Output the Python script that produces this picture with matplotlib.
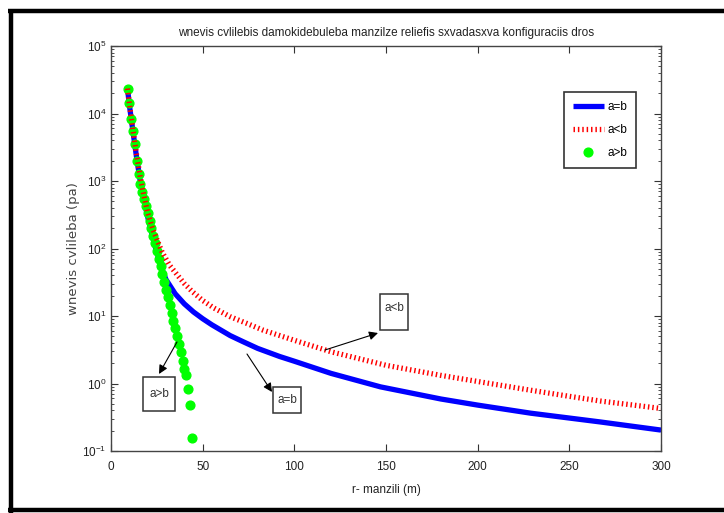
import numpy as np
import matplotlib
matplotlib.use("Agg")
import matplotlib.pyplot as plt
from matplotlib.lines import Line2D
from matplotlib.patches import Rectangle, FancyArrowPatch

plt.rcParams['font.family'] = ['Liberation Sans Narrow', 'Liberation Sans', 'DejaVu Sans']
plt.rcParams['mathtext.fontset'] = 'custom'
plt.rcParams['mathtext.rm'] = 'Liberation Sans Narrow'

# ---- data ----
r_eq = [9, 10, 12, 14, 16, 18, 20, 22, 24, 26, 28, 30, 35, 40, 45, 50, 55, 60, 65,
        72, 80, 92, 100, 120, 147, 180, 200, 229, 267, 300]
logp_eq = [4.37, 4.13, 3.73, 3.34, 2.99, 2.72, 2.47, 2.25, 2.04, 1.85, 1.68, 1.54,
           1.33, 1.18, 1.06, 0.96, 0.87, 0.79, 0.71, 0.62, 0.52, 0.40, 0.33, 0.15,
           -0.05, -0.23, -0.32, -0.44, -0.57, -0.69]

r_lt = [9, 10, 12, 14, 16, 18, 20, 23, 26, 28, 32, 37, 40, 44, 50, 56, 65, 75, 83,
        100, 120, 150, 180, 200, 229, 250, 267, 300]
logp_lt = [4.37, 4.15, 3.75, 3.38, 3.05, 2.78, 2.53, 2.27, 2.07, 1.94, 1.75, 1.58,
           1.48, 1.37, 1.23, 1.12, 0.99, 0.88, 0.79, 0.64, 0.47, 0.27, 0.12, 0.03,
           -0.10, -0.19, -0.26, -0.37]

r_gt = list(range(9, 45))
logp_gt = [4.37, 4.15, 3.92, 3.74, 3.55, 3.30, 3.10, 2.95, 2.84, 2.74, 2.63, 2.52,
           2.41, 2.30, 2.19, 2.08, 1.96, 1.85, 1.74, 1.62, 1.51, 1.39, 1.28, 1.16,
           1.05, 0.93, 0.82, 0.71, 0.59, 0.47, 0.33, 0.22, 0.12, -0.08, -0.32, -0.81]

p_eq = 10 ** np.array(logp_eq)
p_lt = 10 ** np.array(logp_lt)
p_gt = 10 ** np.array(logp_gt)

labels = ['a=b', 'a<b', 'a>b']
title = 'wnevis cvlilebis damokidebuleba manzilze reliefis sxvadasxva konfiguraciis dros'
xlabel = 'r- manzili (m)'
ylabel = 'wnevis cvlileba (pa)'
xticks = [0, 50, 100, 150, 200, 250, 300]

W, H = 724, 513
AX_L, AX_R, AX_T, AX_B = 111, 661, 46, 451

fig = plt.figure(figsize=(W / 100, H / 100), dpi=100)
ax = fig.add_axes([AX_L / W, 1 - AX_B / H, (AX_R - AX_L) / W, (AX_B - AX_T) / H])


def af(px, py):
    """pixel position of the reference -> axes fraction"""
    return ((px - AX_L) / (AX_R - AX_L), (AX_B - py) / (AX_B - AX_T))


l_eq, = ax.plot(r_eq, p_eq, color='#0000ff', lw=3.8, solid_capstyle='butt',
                solid_joinstyle='round', zorder=2)
l_gt, = ax.plot(r_gt, p_gt, linestyle='none', marker='o', ms=6.3,
                color='#00ff00', markeredgecolor='#00ff00', zorder=3)
l_lt, = ax.plot(r_lt, p_lt, color='#ff0000', lw=3.8, linestyle=(0, (0.28, 0.55)),
                dash_capstyle='butt', zorder=4)

ax.set_yscale('log')
ax.set_xlim(0, 300)
ax.set_ylim(1e-1, 1e5)
ax.set_xticks(xticks)
ax.set_xticklabels([str(t) for t in xticks])
ax.tick_params(which='both', direction='in', top=True, right=True, labelsize=8.5,
               colors='#333333', labelcolor='#222222')
ax.tick_params(axis='x', pad=7)
ax.tick_params(which='major', length=5)
ax.tick_params(which='minor', length=2.5)
for s in ax.spines.values():
    s.set_color('#444444')
    s.set_linewidth(1.0)

ax.set_title(title, fontsize=8.5, color='#222222', pad=7)
ax.set_xlabel(xlabel, fontsize=8.5, color='#222222', labelpad=8)
ax.set_ylabel(ylabel, fontsize=9.5, color='#444444', labelpad=1,
              family=['DejaVu Sans'])

leg = ax.legend([l_eq, l_lt, l_gt], labels, loc='upper right',
                bbox_to_anchor=af(636, 92), borderaxespad=0, fancybox=False,
                framealpha=1, edgecolor='#333333', fontsize=8.5, handlelength=2.6,
                labelspacing=0.95, borderpad=0.75, handletextpad=0.3)
leg.get_frame().set_linewidth(1.2)

# annotation boxes (pixel boxes of the reference) and arrows
boxes = [('a<b', (380, 294, 408, 330), (394, 308)),
         ('a=b', (273, 387, 301, 413), (287, 400)),
         ('a>b', (143, 377, 175, 411), (159, 394))]
for txt, (x0, y0, x1, y1), (tx, ty) in boxes:
    fx0, fy0 = af(x0, y1)
    fx1, fy1 = af(x1, y0)
    ax.add_patch(Rectangle((fx0, fy0), fx1 - fx0, fy1 - fy0, transform=ax.transAxes,
                           fc='white', ec='#333333', lw=1.1, zorder=6))
    ax.text(*af(tx, ty), txt, transform=ax.transAxes, ha='center', va='center',
            fontsize=8.5, color='#333333', zorder=7)

arrows = [((325, 350), (378, 333)),
          ((247, 354), (272, 392)),
          ((177, 342), (159, 374))]
for tail, head in arrows:
    ax.add_patch(FancyArrowPatch(af(*tail), af(*head), transform=ax.transAxes,
                                 arrowstyle='-|>', mutation_scale=13, lw=0.8,
                                 color='black', shrinkA=0, shrinkB=0, zorder=7))

# black frame around the figure
fig.add_artist(Line2D([8 / W, 1.0], [1 - 10.5 / H] * 2, color='black', lw=3.2,
                      transform=fig.transFigure, solid_capstyle='butt'))
fig.add_artist(Line2D([10.5 / W] * 2, [1 - 9 / H, 0.0], color='black',
                      lw=3.2, transform=fig.transFigure, solid_capstyle='butt'))
fig.add_artist(Line2D([8 / W, 1.0], [1 - 509.5 / H] * 2, color='black', lw=3.2,
                      transform=fig.transFigure, solid_capstyle='butt'))

fig.savefig('out.png', dpi=100)
